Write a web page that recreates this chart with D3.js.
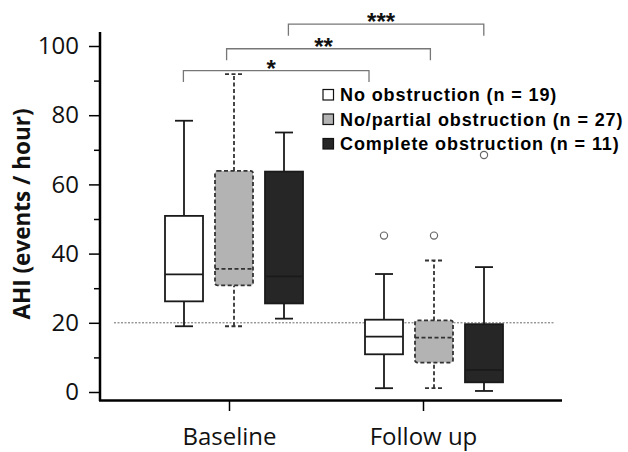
<!DOCTYPE html>
<html>
<head>
<meta charset="utf-8">
<script src="https://cdn.jsdelivr.net/npm/d3@7"></script>
<style>
  body { margin: 0; background: #fff; }
</style>
</head>
<body>
<svg id="chart" width="628" height="452"></svg>
<script>
// groups on the x axis, series inside each group
const groups = ['Baseline', 'Follow up'];
const groupTicks = [0.975, 1.945];
const groupCenters = [1, 2];
const seriesNames = ['No obstruction (n = 19)', 'No/partial obstruction (n = 27)', 'Complete obstruction (n = 11)'];
const seriesOffset = [-0.25, 0, 0.25];
const seriesFill = ['#ffffff', '#b3b3b3', '#262626'];

// box stats per series, [baseline, follow up]
const boxMin = [[19.0, 1.1], [19.0, 1.1], [21.2, 0.3]];
const boxQ1 = [[26.2, 10.9], [30.8, 8.5], [25.6, 2.8]];
const boxMedian = [[34.0, 16.0], [35.6, 15.7], [33.4, 6.4]];
const boxQ3 = [[50.9, 20.9], [63.9, 20.7], [63.7, 19.6]];
const boxMax = [[78.4, 34.1], [91.9, 38.0], [75.0, 36.1]];
const outliers = [[[], [45.2]], [[], [45.2]], [[], [68.5]]];

// significance brackets
const bracketFrom = [0.747, 0.963, 1.272];
const bracketTo = [1.675, 1.982, 2.249];
const bracketLevel = [92.9, 99.2, 106.3];
const bracketLabel = ['*', '**', '***'];

const yTicks = [0, 20, 40, 60, 80, 100];
const yMinorTicks = [10, 30, 50, 70, 90];
const refLevel = 20;

const svg = d3.select('#chart');
const x = d3.scaleLinear().domain([0.33, 2.64]).range([100, 562]);
const y = d3.scaleLinear().domain([0, 100]).range([392, 46]);
const boxW = 0.19;
const capW = 0.09;

// reference line at 20
svg.append('line')
  .attr('x1', x(0.40)).attr('x2', x(2.605))
  .attr('y1', y(refLevel)).attr('y2', y(refLevel))
  .attr('stroke', '#444').attr('stroke-width', 0.8)
  .attr('stroke-dasharray', '2,1.5');

// Y axis
svg.append('line')
  .attr('x1', 100).attr('x2', 100).attr('y1', 32).attr('y2', 401)
  .attr('stroke', '#000').attr('stroke-width', 2.5);
svg.append('g')
  .attr('transform', 'translate(100,0)')
  .call(d3.axisLeft(y).tickValues(yTicks).tickSize(11).tickPadding(10))
  .call(g => g.select('.domain').remove())
  .call(g => g.selectAll('line').attr('stroke', '#000').attr('stroke-width', 1.5))
  .call(g => g.selectAll('text')
    .style('font-family', 'Open Sans').style('font-size', '24px').attr('fill', '#111'));
svg.append('g')
  .attr('transform', 'translate(100,0)')
  .call(d3.axisLeft(y).tickValues(yMinorTicks).tickSize(6).tickFormat(''))
  .call(g => g.select('.domain').remove())
  .call(g => g.selectAll('line').attr('stroke', '#000').attr('stroke-width', 1.5));

svg.append('text')
  .attr('transform', 'translate(30,214) rotate(-90)')
  .attr('text-anchor', 'middle')
  .style('font-family', 'Open Sans').style('font-weight', 'bold').style('font-size', '22.5px')
  .attr('fill', '#111')
  .text('AHI (events / hour)');

// X axis
svg.append('line')
  .attr('x1', 99).attr('x2', 562).attr('y1', 400.5).attr('y2', 400.5)
  .attr('stroke', '#000').attr('stroke-width', 2.5);
svg.append('g')
  .attr('transform', 'translate(0,400)')
  .call(d3.axisBottom(x).tickValues(groupTicks).tickSize(11).tickPadding(17)
    .tickFormat((d, i) => groups[i]))
  .call(g => g.select('.domain').remove())
  .call(g => g.selectAll('line').attr('stroke', '#000').attr('stroke-width', 1.5))
  .call(g => g.selectAll('text')
    .style('font-family', 'Open Sans').style('font-size', '24px').attr('fill', '#111'));

// boxes
const boxes = [];
seriesNames.forEach((s, si) => {
  groups.forEach((gname, gi) => {
    boxes.push({
      si, gi,
      cx: groupCenters[gi] + seriesOffset[si],
      min: boxMin[si][gi], q1: boxQ1[si][gi], med: boxMedian[si][gi],
      q3: boxQ3[si][gi], max: boxMax[si][gi], out: outliers[si][gi]
    });
  });
});

const bg = svg.append('g');
boxes.forEach(b => {
  const dash = b.si === 1 ? '4,2.5' : null;
  const stroke = b.si === 1 ? '#333' : '#1a1a1a';
  const g = bg.append('g');
  // whiskers
  [[b.q3, b.max], [b.min, b.q1]].forEach(([a, c]) => {
    g.append('line')
      .attr('x1', x(b.cx)).attr('x2', x(b.cx)).attr('y1', y(a)).attr('y2', y(c))
      .attr('stroke', stroke).attr('stroke-width', 1.8).attr('stroke-dasharray', dash);
  });
  [b.min, b.max].forEach(v => {
    g.append('line')
      .attr('x1', x(b.cx - capW / 2)).attr('x2', x(b.cx + capW / 2))
      .attr('y1', y(v)).attr('y2', y(v))
      .attr('stroke', stroke).attr('stroke-width', 1.8).attr('stroke-dasharray', dash);
  });
  g.append('rect')
    .attr('x', x(b.cx - boxW / 2)).attr('width', x(b.cx + boxW / 2) - x(b.cx - boxW / 2))
    .attr('y', y(b.q3)).attr('height', y(b.q1) - y(b.q3))
    .attr('rx', b.si === 1 ? 2.5 : 0)
    .attr('fill', seriesFill[b.si])
    .attr('stroke', stroke).attr('stroke-width', 1.8).attr('stroke-dasharray', dash);
  g.append('line')
    .attr('x1', x(b.cx - boxW / 2)).attr('x2', x(b.cx + boxW / 2))
    .attr('y1', y(b.med)).attr('y2', y(b.med))
    .attr('stroke', stroke).attr('stroke-width', 1.8).attr('stroke-dasharray', dash);
  g.selectAll('circle.out').data(b.out).join('circle')
    .attr('class', 'out')
    .attr('cx', x(b.cx)).attr('cy', d => y(d)).attr('r', 3.6)
    .attr('fill', '#fff').attr('stroke', '#666').attr('stroke-width', 1.2);
});

// significance brackets
const leg = 11.5;
bracketLabel.forEach((lab, i) => {
  const yy = y(bracketLevel[i]);
  svg.append('path')
    .attr('d', `M${x(bracketFrom[i])},${yy + leg}V${yy}H${x(bracketTo[i])}V${yy + leg}`)
    .attr('fill', 'none').attr('stroke', '#777').attr('stroke-width', 1.3);
  svg.append('text')
    .attr('x', (x(bracketFrom[i]) + x(bracketTo[i])) / 2 - 5)
    .attr('y', yy + 6)
    .attr('text-anchor', 'middle')
    .style('font-family', 'Liberation Sans').style('font-weight', 'bold').style('font-size', '24px')
    .attr('fill', '#111')
    .text(lab);
});

// legend
const rowH = 24.5;
const lg = svg.append('g').attr('transform', 'translate(323,101)');
seriesNames.forEach((s, i) => {
  lg.append('rect')
    .attr('x', 0).attr('y', i * rowH - 11.5).attr('width', 10.5).attr('height', 10.5)
    .attr('fill', seriesFill[i]).attr('stroke', '#111').attr('stroke-width', 1.2);
  lg.append('text')
    .attr('x', 17).attr('y', i * rowH)
    .style('font-family', 'Liberation Sans').style('font-weight', 'bold').style('font-size', '18px')
    .style('letter-spacing', '0.9px')
    .attr('fill', '#000')
    .text(s);
});
</script>
</body>
</html>
